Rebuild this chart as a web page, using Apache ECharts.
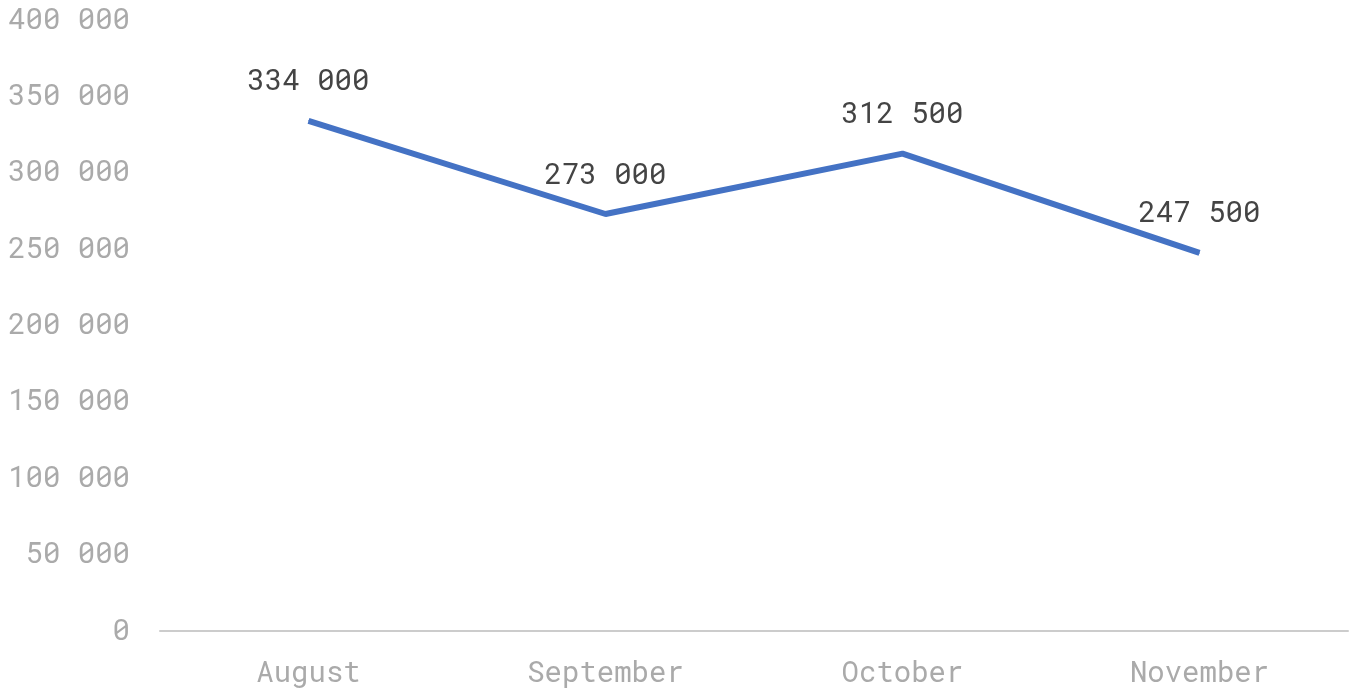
<!DOCTYPE html>
<html>
<head>
<meta charset="utf-8">
<script src="https://cdn.jsdelivr.net/npm/echarts@6/dist/echarts.min.js"></script>
<style>
html,body{margin:0;padding:0;background:#fff;}
#c{width:1354px;height:693px;}
</style>
</head>
<body>
<div id="c"></div>
<script>
const categories = ["August", "September", "October", "November"];
const values = [334000, 273000, 312500, 247500];
const yTicks = [0, 50000, 100000, 150000, 200000, 250000, 300000, 350000, 400000];

function fmt(v) {
  return String(v).replace(/\B(?=(\d{3})+(?!\d))/g, " ");
}
const FONT = '"Roboto Mono", "DejaVu Sans Mono", "Liberation Mono", monospace';
const chart = echarts.init(document.getElementById('c'));
chart.setOption({
  animation: false,
  backgroundColor: '#ffffff',
  grid: { left: 160, right: 6, top: 20, bottom: 62, containLabel: false },
  xAxis: {
    type: 'category',
    data: categories,
    boundaryGap: true,
    axisLine: { show: true, lineStyle: { color: '#cccccc', width: 2 } },
    axisTick: { show: false },
    axisLabel: { color: '#aaaaaa', fontFamily: FONT, fontSize: 29, margin: 28 }
  },
  yAxis: {
    type: 'value',
    min: yTicks[0],
    max: yTicks[yTicks.length - 1],
    interval: 50000,
    splitLine: { show: false },
    axisLine: { show: false },
    axisTick: { show: false },
    axisLabel: { color: '#aaaaaa', fontFamily: FONT, fontSize: 29, margin: 30, formatter: fmt }
  },
  series: [{
    type: 'line',
    data: values,
    showSymbol: true,
    symbol: 'circle',
    symbolSize: 1,
    lineStyle: { color: '#4472c4', width: 6 },
    itemStyle: { color: '#4472c4' },
    label: {
      show: true,
      position: 'top',
      distance: 24,
      color: '#444444',
      fontFamily: FONT,
      fontSize: 29,
      formatter: p => fmt(p.value)
    }
  }]
});
</script>
</body>
</html>
